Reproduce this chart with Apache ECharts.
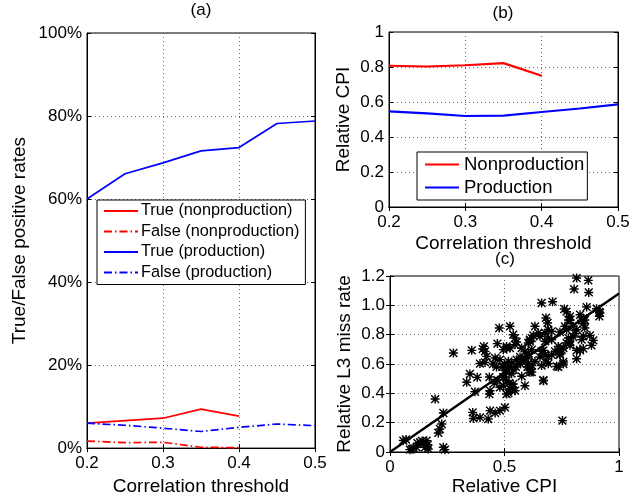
<!DOCTYPE html>
<html>
<head>
<meta charset="utf-8">
<script src="https://cdn.jsdelivr.net/npm/echarts@6/dist/echarts.min.js"></script>
<style>
  html, body { margin: 0; padding: 0; background: #fff; }
  #chart { width: 633px; height: 501px; }
</style>
</head>
<body>
<div id="chart"></div>
<script>
// thresholds on the x axis of (a) and (b)
const thresholds = [0.2, 0.25, 0.3, 0.35, 0.4, 0.45, 0.5]
// (a) true / false positive rates, in %
const trueNonprod = [6.0, 6.6, 7.2, 9.4, 7.7]
const falseNonprod = [1.7, 1.3, 1.4, 0.2, 0.1]
const trueProd = [60.0, 66.1, 68.7, 71.6, 72.4, 78.2, 78.8]
const falseProd = [6.0, 5.5, 4.8, 4.0, 5.0, 5.8, 5.4]
// (b) relative CPI
const cpiNonprod = [0.807, 0.803, 0.81, 0.822, 0.75]
const cpiProd = [0.546, 0.535, 0.52, 0.522, 0.543, 0.563, 0.586]
// (c) relative CPI vs relative L3 miss rate
const missPoints = [
  [0.058, 0.078], [0.07, 0.085], [0.087, 0.016], [0.095, 0.02], [0.102, 0.025], [0.116, 0.032],
  [0.12, 0.06], [0.131, 0.067], [0.14, 0.075], [0.146, 0.055], [0.153, 0.032], [0.16, 0.077],
  [0.167, 0.021], [0.165, 0.05], [0.197, 0.361], [0.233, 0.266], [0.226, 0.191], [0.218, 0.157],
  [0.211, 0.13], [0.233, 0.032], [0.24, 0.016],
  [0.277, 0.675], [0.335, 0.475], [0.349, 0.532], [0.381, 0.509], [0.371, 0.411], [0.361, 0.27],
  [0.364, 0.229], [0.393, 0.236], [0.429, 0.225], [0.357, 0.693], [0.41, 0.72], [0.415, 0.686],
  [0.405, 0.702], [0.393, 0.603], [0.415, 0.611], [0.422, 0.652], [0.434, 0.511], [0.437, 0.418],
  [0.434, 0.395], [0.437, 0.282], [0.459, 0.266], [0.48, 0.282], [0.502, 0.304], [0.48, 0.441],
  [0.495, 0.452], [0.509, 0.395], [0.495, 0.509], [0.509, 0.543], [0.469, 0.739], [0.477, 0.845],
  [0.459, 0.641], [0.48, 0.63], [0.495, 0.698], [0.509, 0.709], [0.45, 0.6], [0.465, 0.58],
  [0.49, 0.58], [0.5, 0.6], [0.47, 0.49], [0.455, 0.47], [0.52, 0.47], [0.535, 0.44], [0.525, 0.43],
  [0.509, 0.486], [0.538, 0.464], [0.531, 0.418], [0.517, 0.402], [0.546, 0.418], [0.575, 0.516],
  [0.611, 0.543], [0.589, 0.452], [0.67, 0.486], [0.753, 0.214], [0.662, 0.589], [0.728, 0.584],
  [0.757, 0.6], [0.524, 0.857], [0.538, 0.8], [0.546, 0.777], [0.509, 0.72], [0.524, 0.709],
  [0.546, 0.731], [0.575, 0.709], [0.589, 0.686], [0.604, 0.674], [0.619, 0.697], [0.517, 0.618],
  [0.531, 0.606], [0.553, 0.629], [0.582, 0.629], [0.604, 0.606], [0.633, 0.618], [0.55, 0.58],
  [0.57, 0.6], [0.52, 0.58], [0.54, 0.56], [0.6, 0.58], [0.62, 0.59],
  [0.815, 1.186], [0.866, 1.17], [0.804, 1.111], [0.868, 1.088], [0.662, 1.016], [0.71, 1.025],
  [0.859, 0.988], [0.761, 0.975], [0.771, 0.957], [0.786, 0.925], [0.779, 0.9], [0.917, 0.948],
  [0.914, 0.925], [0.83, 0.936], [0.844, 0.913], [0.851, 0.9], [0.681, 0.914], [0.688, 0.88],
  [0.633, 0.857], [0.8, 0.857], [0.815, 0.834], [0.851, 0.846], [0.691, 0.834], [0.706, 0.823],
  [0.677, 0.812], [0.764, 0.857], [0.771, 0.834], [0.844, 0.789], [0.837, 0.766], [0.648, 0.812],
  [0.655, 0.789], [0.619, 0.777], [0.611, 0.755], [0.604, 0.743], [0.691, 0.777], [0.677, 0.755],
  [0.706, 0.766], [0.779, 0.777], [0.786, 0.755], [0.771, 0.743], [0.735, 0.72], [0.75, 0.697],
  [0.757, 0.709], [0.662, 0.686], [0.677, 0.663], [0.691, 0.652], [0.706, 0.663], [0.721, 0.686],
  [0.742, 0.663], [0.67, 0.693], [0.684, 0.614], [0.691, 0.602], [0.735, 0.58], [0.757, 0.614],
  [0.786, 0.727], [0.815, 0.693], [0.83, 0.693], [0.844, 0.705], [0.815, 0.636], [0.873, 0.795],
  [0.888, 0.761], [0.88, 0.727], [0.902, 0.977], [0.914, 0.955], [0.742, 0.818], [0.786, 0.898],
  [0.844, 0.875], [0.837, 0.898], [0.611, 0.557], [0.619, 0.545], [0.67, 0.49], [0.568, 0.648],
  [0.59, 0.636], [0.604, 0.648], [0.655, 0.648], [0.553, 0.75], [0.611, 0.766], [0.626, 0.795],
  [0.495, 0.511], [0.531, 0.534], [0.502, 0.557], [0.742, 0.67], [0.8, 0.784], [0.808, 0.807]
]
const fitLine = [[0, 0], [1, 1.08]]

const font = 'Liberation Sans, Arial, Helvetica, sans-serif'
const dashDot = [8, 3, 1.5, 3]
// matlab style '*' marker: plus and cross
const star = 'path://M4.2,0h1.6v10h-1.6Z M0,4.2h10v1.6h-10Z M1.2,0.1L9.9,8.8L8.8,9.9L0.1,1.2Z M8.8,0.1L9.9,1.2L1.2,9.9L0.1,8.8Z'

function pair (xs, ys) {
  return ys.map((y, i) => [xs[i], y])
}

function xAx (grid, min, max, step, fmt, name, gap) {
  return [
    {
      type: 'value', gridIndex: grid, position: 'bottom', min: min, max: max, interval: step,
      name: name, nameLocation: 'middle', nameGap: gap,
      nameTextStyle: { color: '#000', fontSize: 19, fontFamily: font },
      axisLine: { show: true, lineStyle: { color: '#000', width: 1 } },
      axisTick: { inside: true, length: 4, lineStyle: { color: '#000' } },
      axisLabel: { color: '#000', fontSize: 17, fontFamily: font, margin: 7, formatter: fmt },
      splitLine: { show: true, lineStyle: { color: '#666', type: [1, 3] } }
    },
    {
      type: 'value', gridIndex: grid, position: 'top', min: min, max: max, interval: step,
      axisLine: { show: true, lineStyle: { color: '#000', width: 1 } },
      axisTick: { inside: true, length: 4, lineStyle: { color: '#000' } },
      axisLabel: { show: false },
      splitLine: { show: false }
    }
  ]
}

function yAx (grid, min, max, step, fmt, name, gap) {
  return [
    {
      type: 'value', gridIndex: grid, position: 'left', min: min, max: max, interval: step,
      name: name, nameLocation: 'middle', nameGap: gap, nameRotate: 90,
      nameTextStyle: { color: '#000', fontSize: 19, fontFamily: font },
      axisLine: { show: true, lineStyle: { color: '#000', width: 1 } },
      axisTick: { inside: true, length: 4, lineStyle: { color: '#000' } },
      axisLabel: { color: '#000', fontSize: 17, fontFamily: font, margin: 5, formatter: fmt },
      splitLine: { show: true, lineStyle: { color: '#666', type: [1, 3] } }
    },
    {
      type: 'value', gridIndex: grid, position: 'right', min: min, max: max, interval: step,
      axisLine: { show: true, lineStyle: { color: '#000', width: 1 } },
      axisTick: { inside: true, length: 4, lineStyle: { color: '#000' } },
      axisLabel: { show: false },
      splitLine: { show: false }
    }
  ]
}

const fmt1 = v => v.toFixed(1)
const fmtPct = v => Math.round(v) + '%'
const fmtB = v => (v === 0 || v === 1) ? String(v) : v.toFixed(1)
const fmtCy = v => v === 0 ? '0' : v.toFixed(1)
const fmtCx = v => String(v)

const myChart = echarts.init(document.getElementById('chart'), null, { renderer: 'canvas' })

myChart.setOption({
  animation: false,
  backgroundColor: '#fff',
  textStyle: { fontFamily: font },
  graphic: [
    { type: 'text', x: 201, y: 10, style: { text: '(a)', font: '17px ' + font, fill: '#000', textAlign: 'center', textVerticalAlign: 'middle' } },
    { type: 'text', x: 503, y: 13, style: { text: '(b)', font: '17px ' + font, fill: '#000', textAlign: 'center', textVerticalAlign: 'middle' } },
    { type: 'text', x: 505, y: 259, style: { text: '(c)', font: '17px ' + font, fill: '#000', textAlign: 'center', textVerticalAlign: 'middle' } }
  ],
  grid: [
    { left: 87, top: 33, width: 228, height: 419, show: true, borderColor: '#000', borderWidth: 1, backgroundColor: 'transparent' },
    { left: 389, top: 32, width: 229, height: 175, show: true, borderColor: '#000', borderWidth: 1, backgroundColor: 'transparent' },
    { left: 390, top: 276, width: 229, height: 176, show: true, borderColor: '#000', borderWidth: 1, backgroundColor: 'transparent' }
  ],
  xAxis: [
    ...xAx(0, 0.2, 0.5, 0.1, fmt1, 'Correlation threshold', 27),
    ...xAx(1, 0.2, 0.5, 0.1, fmt1, 'Correlation threshold', 27),
    ...xAx(2, 0, 1, 0.5, fmtCx, 'Relative CPI', 24)
  ],
  yAxis: [
    ...yAx(0, 0, 100, 20, fmtPct, 'True/False positive rates', 58),
    ...yAx(1, 0, 1, 0.2, fmtB, 'Relative CPI', 36),
    ...yAx(2, 0, 1.2, 0.2, fmtCy, 'Relative L3 miss rate', 36)
  ],
  legend: [
    {
      orient: 'vertical', left: 97, top: 200, width: 210,
      backgroundColor: '#fff', borderColor: '#000', borderWidth: 1,
      padding: [3, 6, 4, 6], itemGap: 4.5, itemWidth: 34, itemHeight: 14,
      itemStyle: { opacity: 0 },
      textStyle: { color: '#000', fontSize: 16.3, fontFamily: font, padding: [0, 0, 0, -2] },
      data: ['True (nonproduction)', 'False (nonproduction)', 'True (production)', 'False (production)']
    },
    {
      orient: 'vertical', left: 417, top: 152,
      backgroundColor: '#fff', borderColor: '#000', borderWidth: 1,
      padding: [3, 3, 3, 7], itemGap: 4, itemWidth: 34, itemHeight: 18,
      itemStyle: { opacity: 0 },
      textStyle: { color: '#000', fontSize: 18.5, fontFamily: font },
      data: ['Nonproduction', 'Production']
    }
  ],
  series: [
    { name: 'True (nonproduction)', type: 'line', xAxisIndex: 0, yAxisIndex: 0, symbol: 'none', color: '#ff0000', lineStyle: { width: 1.7 }, data: pair(thresholds, trueNonprod) },
    { name: 'False (nonproduction)', type: 'line', xAxisIndex: 0, yAxisIndex: 0, symbol: 'none', color: '#ff0000', lineStyle: { width: 1.7, type: dashDot }, data: pair(thresholds, falseNonprod) },
    { name: 'True (production)', type: 'line', xAxisIndex: 0, yAxisIndex: 0, symbol: 'none', color: '#0000ff', lineStyle: { width: 1.7 }, data: pair(thresholds, trueProd) },
    { name: 'False (production)', type: 'line', xAxisIndex: 0, yAxisIndex: 0, symbol: 'none', color: '#0000ff', lineStyle: { width: 1.7, type: dashDot }, data: pair(thresholds, falseProd) },
    { name: 'Nonproduction', type: 'line', xAxisIndex: 2, yAxisIndex: 2, symbol: 'none', color: '#ff0000', lineStyle: { width: 2.2 }, data: pair(thresholds, cpiNonprod) },
    { name: 'Production', type: 'line', xAxisIndex: 2, yAxisIndex: 2, symbol: 'none', color: '#0000ff', lineStyle: { width: 2.2 }, data: pair(thresholds, cpiProd) },
    { name: 'samples', type: 'scatter', xAxisIndex: 4, yAxisIndex: 4, symbol: star, symbolSize: 9, itemStyle: { color: '#000', opacity: 1 }, data: missPoints },
    { name: 'fit', type: 'line', xAxisIndex: 4, yAxisIndex: 4, symbol: 'none', color: '#000', lineStyle: { width: 2.4 }, data: fitLine }
  ]
})
</script>
</body>
</html>
